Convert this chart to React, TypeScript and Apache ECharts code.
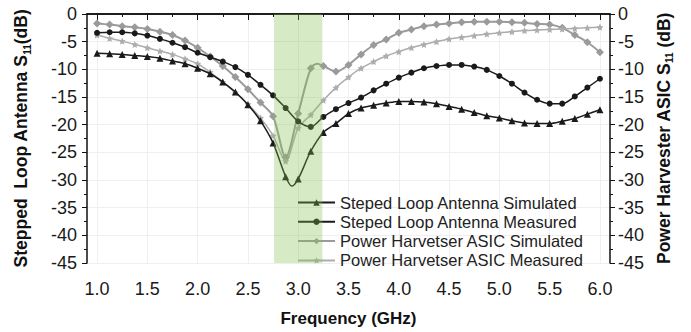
import React, { useEffect, useRef } from 'react';
import * as echarts from 'echarts';

const freqs = [
  1.0, 1.125, 1.25, 1.375, 1.5, 1.625, 1.75, 1.875, 2.0, 2.125, 2.25, 2.375, 2.5, 2.625,
  2.75, 2.875, 3.0, 3.125, 3.25, 3.375, 3.5, 3.625, 3.75, 3.875, 4.0, 4.125, 4.25, 4.375,
  4.5, 4.625, 4.75, 4.875, 5.0, 5.125, 5.25, 5.375, 5.5, 5.625, 5.75, 5.875, 6.0,
];

const antennaSimulated = [
  -7.1, -7.2, -7.3, -7.5, -7.7, -8.0, -8.5, -9.0, -9.8, -10.8, -12.3, -14.1, -16.4, -19.3,
  -23.3, -29.4, -29.8, -24.8, -21.4, -19.8, -18.0, -17.0, -16.5, -16.1, -15.8, -15.8, -15.9, -16.2,
  -16.7, -17.2, -17.8, -18.4, -18.8, -19.3, -19.7, -19.8, -19.8, -19.4, -18.9, -18.1, -17.3,
];
const antennaSimulatedExtra = [[2.9375, -31.1]];

const antennaMeasured = [
  -3.4, -3.3, -3.3, -3.5, -3.9, -4.5, -5.2, -6.0, -7.0, -7.8, -8.6, -9.6, -11.0, -12.8,
  -14.7, -17.0, -19.4, -20.4, -18.6, -17.2, -16.1, -15.1, -13.8, -12.6, -11.5, -10.6, -9.8, -9.4,
  -9.2, -9.2, -9.5, -10.1, -11.2, -12.6, -14.2, -15.5, -16.2, -16.2, -14.9, -13.3, -11.7,
];

const asicSimulated = [
  -1.7, -1.9, -2.2, -2.4, -2.7, -3.2, -3.8, -4.8, -6.1, -7.7, -9.4, -11.4, -13.6, -16.0,
  -18.5, -25.9, -18.0, -9.8, -9.4, -10.4, -9.2, -7.3, -5.6, -4.6, -3.4, -2.8, -2.2, -1.9,
  -1.7, -1.5, -1.4, -1.4, -1.4, -1.5, -1.6, -1.8, -1.9, -2.5, -3.8, -5.1, -6.9,
];
const asicSimulatedExtra = [[3.19, -9.0]];

const asicMeasured = [
  -3.8, -4.4, -4.9, -5.5, -6.1, -6.7, -7.3, -8.1, -9.0, -10.5, -12.3, -14.2, -16.3, -18.8,
  -22.0, -26.6, -20.6, -18.2, -15.6, -13.3, -11.4, -9.8, -8.6, -7.6, -6.8, -6.1, -5.5, -5.0,
  -4.5, -4.2, -3.9, -3.6, -3.4, -3.2, -3.0, -2.9, -2.8, -2.7, -2.6, -2.5, -2.4,
];

const xMajorTicks = [1.0, 1.5, 2.0, 2.5, 3.0, 3.5, 4.0, 4.5, 5.0, 5.5, 6.0];
const xMinorTicks = [1.25, 1.75, 2.25, 2.75, 3.25, 3.75, 4.25, 4.75, 5.25, 5.75];
const bandRange = [2.76, 3.24];

const seriesNames = [
  'Steped Loop Antenna Simulated',
  'Steped Loop Antenna Measured',
  'Power Harvetser ASIC Simulated',
  'Power Harvetser ASIC Measured',
];

const FONT = 'Liberation Sans, Arial, sans-serif';
const STAR = 'path://M0,-10 L2.9,-4 L9.5,-3.1 L4.7,1.5 L5.9,8.1 L0,5 L-5.9,8.1 L-4.7,1.5 L-9.5,-3.1 L-2.9,-4 Z';

function build(vals: number[], extras: number[][] = []) {
  const pts: any[] = freqs.map((f, i) => ({ value: [f, vals[i]] }));
  extras.forEach((e) => pts.push({ value: [e[0], e[1]], symbol: 'none' }));
  pts.sort((a, b) => a.value[0] - b.value[0]);
  return pts;
}

export default function App() {
  const ref = useRef<HTMLDivElement>(null);
  useEffect(() => {
    const chart = echarts.init(ref.current!, null, { renderer: 'svg' });
    const nameRich = {
      t: { fontSize: 17.5, fontWeight: 'bold', fontFamily: FONT, color: '#111', lineHeight: 22 },
      s: { fontSize: 10, fontWeight: 'bold', fontFamily: FONT, color: '#111', lineHeight: 10, verticalAlign: 'bottom' },
    };
    const yCommon = {
      type: 'value',
      min: -45,
      max: 0,
      interval: 5,
      nameLocation: 'middle',
      nameRotate: 90,
      axisLine: { show: true, lineStyle: { color: '#111', width: 1.5 } },
      axisTick: { show: true, inside: false, length: 5, lineStyle: { color: '#111' } },
      minorTick: { show: true, splitNumber: 2, length: 3, lineStyle: { color: '#111' } },
      axisLabel: { fontSize: 18, fontFamily: FONT, color: '#1a1a1a' },
      splitLine: { show: false },
    };
    const option: any = {
      animation: false,
      backgroundColor: '#fff',
      grid: { left: 87, right: 81, top: 14, bottom: 64, containLabel: false },
      legend: {
        data: seriesNames,
        orient: 'vertical',
        left: 292,
        top: 189,
        itemWidth: 37,
        itemHeight: 8,
        itemGap: 2.3,
        textStyle: { fontSize: 16.5, fontFamily: FONT, color: '#222', lineHeight: 16 },
      },
      xAxis: [
        {
          type: 'value',
          min: 0.9,
          max: 6.1,
          position: 'bottom',
          name: 'Frequency (GHz)',
          nameLocation: 'middle',
          nameGap: 47,
          nameTextStyle: { fontSize: 17, fontWeight: 'bold', fontFamily: FONT, color: '#111' },
          axisLine: { show: true, lineStyle: { color: '#111', width: 1.5 } },
          axisTick: { show: true, inside: false, length: 6, customValues: xMajorTicks, lineStyle: { color: '#111' } },
          axisLabel: {
            customValues: xMajorTicks,
            fontSize: 18,
            fontFamily: FONT,
            color: '#1a1a1a',
            margin: 17,
            formatter: (v: number) => v.toFixed(1),
          },
          splitLine: { show: true, lineStyle: { color: '#efefef', width: 1 } },
        },
        {
          type: 'value',
          min: 0.9,
          max: 6.1,
          position: 'bottom',
          axisLine: { show: false },
          axisTick: { show: true, inside: false, length: 3, customValues: xMinorTicks, lineStyle: { color: '#111' } },
          axisLabel: { show: false },
          splitLine: { show: false },
        },
        {
          type: 'value',
          min: 0.9,
          max: 6.1,
          position: 'top',
          axisLine: { show: true, lineStyle: { color: '#111', width: 1.5 } },
          axisTick: { show: false },
          axisLabel: { show: false },
          splitLine: { show: false },
        },
      ],
      yAxis: [
        {
          ...yCommon,
          position: 'left',
          name: '{t|Stepped  Loop Antenna S}{s|11}{t|(dB)}',
          nameGap: 55,
          nameTextStyle: { rich: nameRich },
          axisLabel: { ...yCommon.axisLabel, margin: 10 },
          splitLine: { show: true, lineStyle: { color: '#efefef', width: 1 } },
        },
        {
          ...yCommon,
          position: 'right',
          name: '{t|Power Harvester ASIC S}{s|11}{t| (dB)}',
          nameGap: 31,
          nameTextStyle: { rich: nameRich },
          axisLabel: { ...yCommon.axisLabel, margin: 8 },
        },
      ],
      series: [
        {
          name: seriesNames[0],
          type: 'line',
          xAxisIndex: 0,
          yAxisIndex: 0,
          data: build(antennaSimulated, antennaSimulatedExtra),
          smooth: 0.3,
          symbol: 'triangle',
          symbolSize: 7,
          lineStyle: { color: '#1a1a1a', width: 1.5 },
          itemStyle: { color: '#1a1a1a' },
          z: 4,
        },
        {
          name: seriesNames[1],
          type: 'line',
          xAxisIndex: 0,
          yAxisIndex: 0,
          data: build(antennaMeasured),
          smooth: 0.3,
          symbol: 'circle',
          symbolSize: 6,
          lineStyle: { color: '#1a1a1a', width: 1.5 },
          itemStyle: { color: '#1a1a1a' },
          z: 4,
        },
        {
          name: seriesNames[2],
          type: 'line',
          xAxisIndex: 0,
          yAxisIndex: 1,
          data: build(asicSimulated, asicSimulatedExtra),
          smooth: 0.3,
          symbol: 'diamond',
          symbolSize: 8,
          lineStyle: { color: '#9a9a9a', width: 2 },
          itemStyle: { color: '#9a9a9a' },
          z: 3,
        },
        {
          name: seriesNames[3],
          type: 'line',
          xAxisIndex: 0,
          yAxisIndex: 1,
          data: build(asicMeasured),
          smooth: 0.3,
          symbol: STAR,
          symbolSize: 7,
          lineStyle: { color: '#adadad', width: 1.5 },
          itemStyle: { color: '#adadad' },
          z: 3,
        },
        {
          name: 'band',
          type: 'line',
          xAxisIndex: 0,
          yAxisIndex: 0,
          data: [],
          silent: true,
          z: 10,
          markArea: {
            silent: true,
            z: 10,
            itemStyle: { color: 'rgba(130,195,80,0.33)' },
            data: [[{ xAxis: bandRange[0] }, { xAxis: bandRange[1] }]],
          },
        },
      ],
    };
    chart.setOption(option);
    return () => chart.dispose();
  }, []);
  return (
    <div
      ref={ref}
      style={{ position: 'absolute', left: 0, top: 0, width: 691, height: 332 }}
    />
  );
}
